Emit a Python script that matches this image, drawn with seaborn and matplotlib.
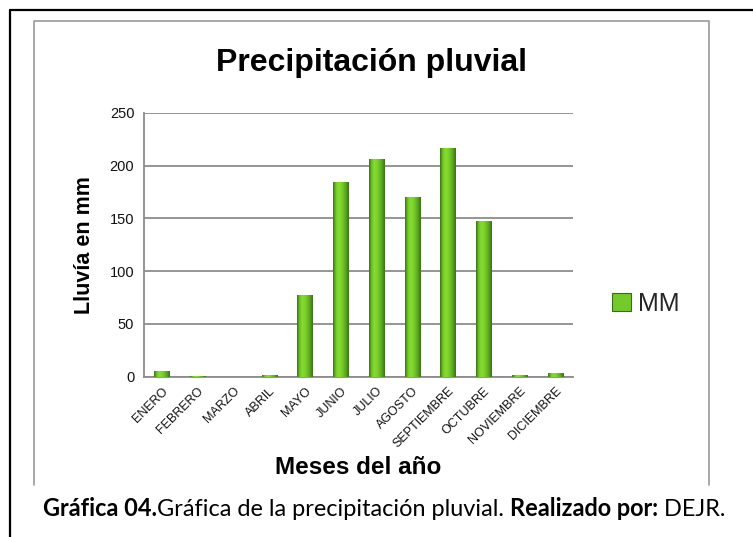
import numpy as np
import pandas as pd
import matplotlib
matplotlib.use("Agg")
import matplotlib.pyplot as plt
import seaborn as sns
from matplotlib.lines import Line2D
from matplotlib.patches import Patch
from matplotlib.colors import LinearSegmentedColormap

# ---- data ----
meses = ["ENERO", "FEBRERO", "MARZO", "ABRIL", "MAYO", "JUNIO", "JULIO",
         "AGOSTO", "SEPTIEMBRE", "OCTUBRE", "NOVIEMBRE", "DICIEMBRE"]
lluvia_mm = [5.1, 0.6, 0.0, 1.6, 77.3, 184.3, 206.1, 170.1, 216.5, 147.3, 1.3, 3.2]
serie = "MM"
y_ticks = [0, 50, 100, 150, 200, 250]

titulo = "Precipitación pluvial"
ylabel = "Lluvía en mm"
xlabel = "Meses del año"
caption = [("Gráfica 04.", "bold"),
           ("Gráfica de la precipitación pluvial. ", "normal"),
           ("Realizado por:", "bold"),
           (" DEJR.", "normal")]

df = pd.DataFrame({"mes": meses, "mm": lluvia_mm})

sns.set_theme(style="white")
plt.rcParams["font.family"] = ["Liberation Sans", "DejaVu Sans"]

W, H = 753, 537
fig = plt.figure(figsize=(W / 100, H / 100), dpi=100)
fig.patch.set_facecolor("white")


def fx(px):
    return px / W


def fy(py):
    return 1 - py / H


ax = fig.add_axes([fx(144), fy(376.7), fx(573) - fx(144), fy(113) - fy(376.7)])

base_green = "#74CA28"
sns.barplot(data=df, x="mes", y="mm", color=base_green, width=0.42,
            edgecolor="#3A6C16", linewidth=0.7, saturation=1, ax=ax, zorder=3)

# cylinder-like gradient fill clipped to each bar
cmap = LinearSegmentedColormap.from_list(
    "cyl", ["#3B6E17", "#6FC526", "#86DC30", "#80D42D", "#6CBE25", "#56A01F", "#3A7016"])
grad = np.linspace(0, 1, 64).reshape(1, -1)
for p in list(ax.patches):
    x0, y0 = p.get_x(), p.get_y()
    w, h = p.get_width(), p.get_height()
    if h <= 0:
        continue
    im = ax.imshow(grad, cmap=cmap, aspect="auto",
                   extent=[x0, x0 + w, y0, y0 + h], zorder=3.5,
                   interpolation="bicubic")
    im.set_clip_path(p)

ax.set_xlim(-0.5, len(meses) - 0.5)
ax.set_ylim(0, 250)
ax.set_yticks(y_ticks)
ax.set_yticklabels([str(t) for t in y_ticks], fontsize=10.5, color="#111111")
ax.set_xticks(range(len(meses)))
ax.set_xticklabels(meses, rotation=45, ha="right", va="top",
                   rotation_mode="anchor", fontsize=9, color="#111111")
ax.tick_params(axis="x", length=0, pad=6)
ax.tick_params(axis="y", length=5, width=1.1, color="#8C8C8C", pad=2, direction="out")
ax.yaxis.grid(True, color="#8C8C8C", linewidth=1.3, zorder=0)
ax.xaxis.grid(False)
for s in ["top", "right"]:
    ax.spines[s].set_visible(False)
for s in ["left", "bottom"]:
    ax.spines[s].set_color("#8C8C8C")
    ax.spines[s].set_linewidth(1.3)
ax.set_xlabel("")
ax.set_ylabel("")
ax.set_facecolor("white")

# titles / labels
fig.text(fx(372), fy(63), titulo, ha="center", va="center",
         fontsize=23, fontweight="bold", color="black")
fig.text(fx(84), fy(245), ylabel, ha="center", va="center", rotation=90,
         fontsize=15.5, fontweight="bold", color="black")
fig.text(fx(358), fy(467), xlabel, ha="center", va="center",
         fontsize=17.5, fontweight="bold", color="black")

# legend
handle = Patch(facecolor="#74CA28", edgecolor="#3A6C16", linewidth=0.8)
fig.legend([handle], [serie], loc="center left",
           bbox_to_anchor=(fx(612), fy(304)), frameon=False, fontsize=18,
           handlelength=0.75, handleheight=0.75, handletextpad=0.3,
           borderaxespad=0, borderpad=0)

# frames
fig.add_artist(Line2D([fx(9.5), fx(9.5)], [fy(0 + 10), fy(H + 5)],
                      transform=fig.transFigure, color="black", linewidth=1.6))
fig.add_artist(Line2D([fx(9.5), fx(W + 5)], [fy(10), fy(10)],
                      transform=fig.transFigure, color="black", linewidth=1.6))
gray = "#9A9A9A"
fig.add_artist(Line2D([fx(34), fx(34), fx(709), fx(709)],
                      [fy(485), fy(21), fy(21), fy(485)],
                      transform=fig.transFigure, color=gray, linewidth=1.2))

# caption built from bold / regular pieces
fig.canvas.draw()
renderer = fig.canvas.get_renderer()
cap_font = ["Lato", "DejaVu Sans"]
size = 14
target_w = 689


def total_width(sz):
    tot = 0
    tmp = []
    for txt, wt in caption:
        t = fig.text(0, 0, txt, fontsize=sz, fontweight=wt, family=cap_font)
        tot += t.get_window_extent(renderer).width
        tmp.append(t)
    for t in tmp:
        t.remove()
    return tot


tw = total_width(size)
size = size * target_w / tw
x = 43
for txt, wt in caption:
    t = fig.text(fx(x), fy(516), txt, fontsize=size, fontweight=wt,
                 family=cap_font, ha="left", va="baseline", color="black")
    x += t.get_window_extent(renderer).width

fig.savefig("out.png", dpi=100, facecolor="white")
